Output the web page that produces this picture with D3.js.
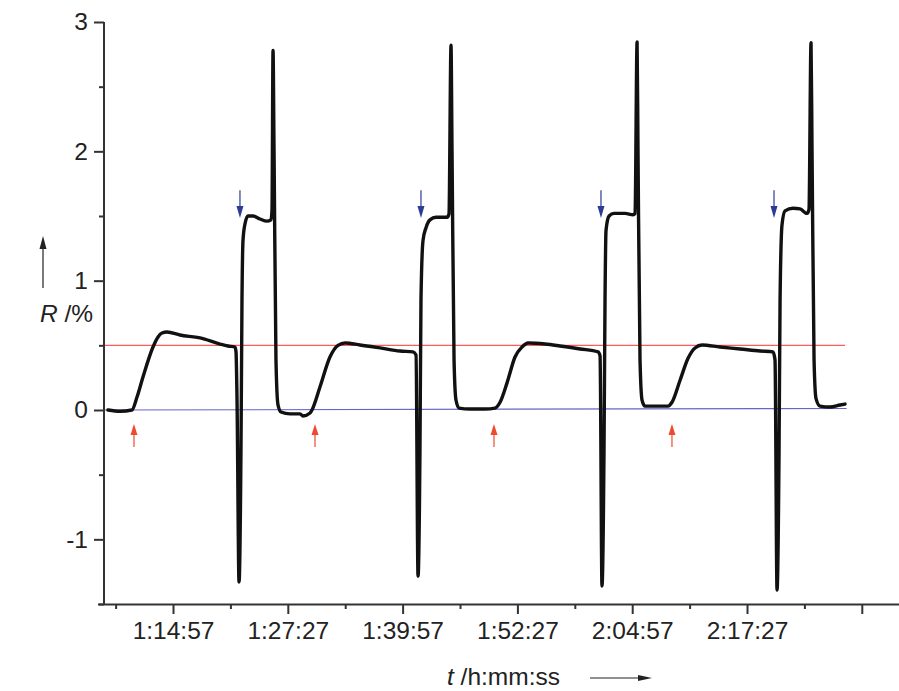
<!DOCTYPE html>
<html><head><meta charset="utf-8">
<script src="https://cdn.jsdelivr.net/npm/d3@7"></script>
<style>body{margin:0;background:#fff}svg{display:block}</style>
</head><body>
<svg id="c" width="899" height="691"></svg>
<script>
// ---- data (time in minutes, R in %) ----
const timeMin = [
 67.87,69.18,70.48,71.03,71.68,72.77,73.32,73.75,74.30,75.71,77.89,80.07,80.94,81.70,81.81,81.92,82.14,82.35,82.46,82.57,82.79,83.12,83.66,84.42,85.18,85.62,85.73,85.84,85.95,86.16,86.38,86.71,87.69,88.78,89.10,89.87,90.08,
 90.96,92.04,92.92,93.68,95.31,97.49,99.67,101.08,101.41,101.63,101.84,101.95,102.17,102.50,102.93,103.59,104.79,105.00,105.22,105.33,105.55,105.76,106.09,107.29,108.92,110.01,
 110.56,111.32,112.19,112.95,113.61,115.46,117.09,119.27,121.23,121.45,121.66,121.88,121.99,122.10,122.43,122.97,124.17,125.04,125.26,125.48,125.58,125.80,126.02,126.35,127.98,128.85,
 129.28,130.16,131.03,131.79,132.55,134.51,136.69,138.87,140.28,140.50,140.72,140.94,141.05,141.26,141.59,142.46,143.22,143.99,144.20,144.42,144.53,144.75,144.96,145.40,146.49,147.58,148.12
];
const rValue = [
 0,-0.01,0,0.10,0.255,0.487,0.565,0.595,0.603,0.58,0.557,0.51,0.495,0.487,0.45,0.08,-1.33,-0.31,0.85,1.31,1.44,1.50,1.50,1.477,1.46,1.47,1.55,2.78,2.01,0.39,0.04,-0.015,-0.03,-0.03,-0.046,-0.023,0,
 0.18,0.41,0.50,0.518,0.503,0.48,0.456,0.449,0.425,-1.284,-0.31,0.85,1.31,1.41,1.47,1.49,1.49,1.516,2.82,2.01,0.39,0.077,0.015,0.008,0.008,0.015,
 0.06,0.21,0.41,0.487,0.518,0.51,0.495,0.472,0.449,0.418,-1.361,-0.31,0.85,1.39,1.50,1.52,1.52,1.51,1.52,2.846,2.01,0.39,0.077,0.03,0.03,0.03,
 0.06,0.23,0.40,0.48,0.503,0.487,0.472,0.456,0.449,0.387,-1.392,-0.31,0.85,1.43,1.54,1.56,1.555,1.52,1.55,2.84,2.01,0.39,0.09,0.03,0.023,0.039,0.046
];
const xMajorTicks = ["1:14:57","1:27:27","1:39:57","1:52:27","2:04:57","2:17:27","2:29:57"];
const xTickLabels = ["1:14:57","1:27:27","1:39:57","1:52:27","2:04:57","2:17:27",""];
const yMajorTicks = [-1,0,1,2,3];
const yTickLabels = ["-1","0","1","2","3"];
const yMinorTicks = [-1.5,-0.5,0.5,1.5,2.5];
const redLine = {t:[67.44,148.12], r:[0.5,0.5]};
const blueLine = {t:[67.44,148.3], r:[0,0.012]};
const redArrowTimes = [70.70,90.41,109.90,129.28];
const redArrowR = [-0.286,-0.108];   // tail, tip
const blueArrowTimes = [82.24,101.95,121.55,140.39];
const blueArrowR = [1.70,1.485];     // tail, tip

// ---- chart ----
const hms = s => { const p = s.split(":").map(Number); return p[0]*60 + p[1] + p[2]/60; };
const svg = d3.select("#c");
const font = "'Liberation Sans', Arial, sans-serif";
const x = d3.scaleLinear().domain([67,154]).range([100,899]);
const y = d3.scaleLinear().domain([-1.5,3]).range([604,22]);
const axisX = 104;

// reference lines
const refLine = d3.line().x(d=>x(d[0])).y(d=>y(d[1]));
svg.append("path").attr("d", refLine(d3.zip(redLine.t, redLine.r)))
  .attr("stroke","#ff5b5b").attr("stroke-width",1.1).attr("fill","none");
svg.append("path").attr("d", refLine(d3.zip(blueLine.t, blueLine.r)))
  .attr("stroke","#6565cc").attr("stroke-width",1.1).attr("fill","none");

// data curve
svg.append("path")
  .attr("d", d3.line().curve(d3.curveMonotoneX).x(d=>x(d[0])).y(d=>y(d[1]))(d3.zip(timeMin, rValue)))
  .attr("fill","none").attr("stroke","#111").attr("stroke-width",3.4)
  .attr("stroke-linejoin","round").attr("stroke-linecap","round");

// arrows
function arrow(x0, y0, x1, y1, color, head, width, lw) {
  const dx = x1-x0, dy = y1-y0, L = Math.hypot(dx,dy), ux = dx/L, uy = dy/L;
  const bx = x1-ux*head, by = y1-uy*head;
  svg.append("line").attr("x1",x0).attr("y1",y0).attr("x2",bx).attr("y2",by)
    .attr("stroke",color).attr("stroke-width",lw);
  svg.append("path").attr("d",`M${x1},${y1}L${bx-uy*width/2},${by+ux*width/2}L${bx+uy*width/2},${by-ux*width/2}Z`)
    .attr("fill",color);
}
redArrowTimes.forEach(t => arrow(x(t), y(redArrowR[0]), x(t), y(redArrowR[1]), "#ee4a30", 11, 7, 1.2));
blueArrowTimes.forEach(t => arrow(x(t), y(blueArrowR[0]), x(t), y(blueArrowR[1]), "#2c3c96", 12, 7, 1.2));

// axes
const gY = svg.append("g").attr("transform",`translate(${axisX},0)`);
gY.call(d3.axisLeft(y).tickValues(yMajorTicks).tickFormat((d,i)=>yTickLabels[i]).tickSize(10).tickPadding(6));
const gYm = svg.append("g").attr("transform",`translate(${axisX},0)`);
gYm.call(d3.axisLeft(y).tickValues(yMinorTicks).tickFormat("").tickSize(5));
gYm.select(".domain").remove();

const gX = svg.append("g").attr("transform","translate(0,604)");
gX.call(d3.axisBottom(x).tickValues(xMajorTicks.map(hms)).tickFormat((d,i)=>xTickLabels[i]).tickSize(10).tickPadding(8).tickSizeOuter(0));
const gXm = svg.append("g").attr("transform","translate(0,604)");
gXm.call(d3.axisBottom(x).tickValues(xMajorTicks.map(hms).map(v=>v-6.25).concat([hms("2:29:57")+6.25])).tickFormat("").tickSize(5));
gXm.select(".domain").remove();
gX.select(".domain").attr("d","M98,0.5H899");

svg.selectAll(".domain, .tick line").attr("stroke","#333").attr("stroke-width",2);
svg.selectAll(".tick text").attr("font-family",font).attr("font-size",24.5).attr("fill","#222");
gY.select(".domain").attr("d",`M0,${y(3)}V${y(-1.5)}`);

// axis titles
const yt = svg.append("text").attr("x",40).attr("y",322).attr("font-family",font).attr("font-size",24.5).attr("fill","#222");
yt.append("tspan").attr("font-style","italic").text("R");
yt.append("tspan").text(" /%");
arrow(43, 288, 43, 236, "#222", 13, 7, 1.2);

const xt = svg.append("text").attr("x",447).attr("y",685).attr("font-family",font).attr("font-size",24.5).attr("fill","#222");
xt.append("tspan").attr("font-style","italic").text("t");
xt.append("tspan").text(" /h:mm:ss");
arrow(590, 678, 652, 678, "#222", 14, 6, 1.2);
</script>
</body></html>
